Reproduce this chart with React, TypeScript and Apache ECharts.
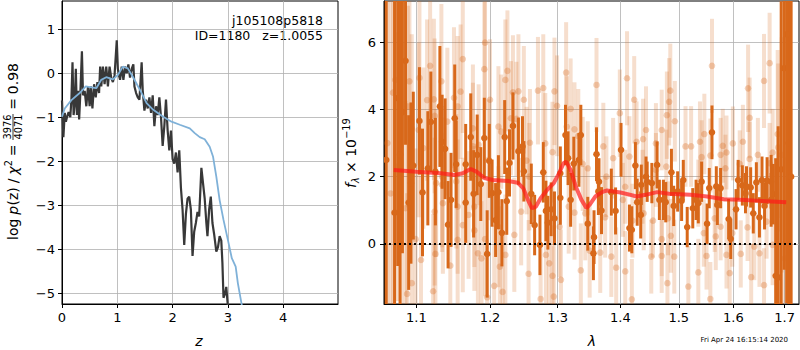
import React, { useEffect, useRef } from 'react';
import * as echarts from 'echarts';

// ---------- left panel: p(z) ----------
const zTicks = [0, 1, 2, 3, 4];
const logpTicks = [-5, -4, -3, -2, -1, 0, 1];
const Z_MIN = 0, Z_MAX = 4.99, LP_MIN = -5.24, LP_MAX = 1.64;

const pzZ = [0.0, 0.01, 0.025, 0.05, 0.07, 0.09, 0.12, 0.15, 0.17, 0.19, 0.21, 0.23, 0.25, 0.27, 0.29, 0.31, 0.33, 0.36, 0.38, 0.41, 0.44, 0.47, 0.5, 0.52, 0.55, 0.58, 0.61, 0.64, 0.67, 0.69, 0.71, 0.74, 0.77, 0.8, 0.83, 0.86, 0.89, 0.92, 0.95, 0.99, 1.01, 1.03, 1.05, 1.08, 1.11, 1.14, 1.17, 1.2, 1.23, 1.26, 1.29, 1.31, 1.34, 1.37, 1.4, 1.44, 1.46, 1.49, 1.52, 1.55, 1.58, 1.61, 1.64, 1.67, 1.7, 1.73, 1.76, 1.79, 1.82, 1.85, 1.88, 1.91, 1.94, 1.97, 2.0, 2.03, 2.06, 2.09, 2.12, 2.15, 2.18, 2.21, 2.24, 2.27, 2.3, 2.33, 2.36, 2.39, 2.42, 2.45, 2.48, 2.52, 2.55, 2.58, 2.61, 2.63, 2.66, 2.69, 2.72, 2.75, 2.79, 2.82, 2.85, 2.88, 2.9, 2.92, 2.95, 2.97, 3.0, 3.03];
const pzLog = [-0.62, -0.61, -1.45, -0.9, -1.1, -1.0, -0.88, -1.0, -0.6, 0.25, -0.95, -0.7, 0.1, -0.95, -0.4, -1.05, -0.5, 0.5, -0.5, -0.4, -0.75, -0.3, -0.75, -0.3, -0.8, -0.25, -0.55, -0.2, -0.45, 0.15, -0.3, 0.15, -0.25, 0.15, -0.3, 0.15, -0.1, -0.2, -0.05, 0.75, 0.1, -0.05, -0.15, 0.15, -0.15, 0.15, 0.0, 0.2, -0.1, 0.1, 0.2, -0.3, -0.45, -0.55, -0.6, 0.25, -0.4, -0.85, -0.6, -0.8, -0.55, -0.9, -0.5, -1.2, -0.75, -0.95, -0.55, -1.0, -1.65, -1.2, -0.6, -1.3, -1.75, -1.3, -1.95, -2.05, -1.8, -2.25, -1.75, -2.6, -3.1, -3.9, -3.2, -2.85, -2.8, -3.1, -4.15, -3.6, -3.4, -3.15, -3.25, -2.15, -2.5, -2.85, -3.4, -3.7, -3.1, -2.8, -3.4, -3.65, -4.05, -3.95, -3.7, -3.8, -4.3, -5.1, -5.0, -4.85, -5.3, -5.6];

const tplZ = [0.0, 0.05, 0.17, 0.32, 0.43, 0.53, 0.62, 0.71, 0.8, 0.92, 1.01, 1.1, 1.19, 1.28, 1.41, 1.53, 1.65, 1.83, 1.98, 2.13, 2.31, 2.4, 2.49, 2.58, 2.67, 2.73, 2.79, 2.85, 2.92, 3.0, 3.07, 3.14, 3.18, 3.24, 3.3];
const tplLog = [-0.99, -0.8, -0.61, -0.45, -0.3, -0.32, -0.34, -0.15, -0.09, -0.14, -0.04, 0.15, 0.11, -0.08, -0.38, -0.68, -0.83, -0.99, -1.1, -1.17, -1.25, -1.36, -1.45, -1.5, -1.67, -1.89, -2.35, -2.88, -3.33, -3.79, -4.2, -4.39, -4.77, -5.19, -5.6];

// ---------- right panel: spectrum ----------
const lamTicks = [1.1, 1.2, 1.3, 1.4, 1.5, 1.6, 1.7];
const fluxTicks = [0, 2, 4, 6];
const LAM_MIN = 1.0587, LAM_MAX = 1.729, FX_MIN = -1.79, FX_MAX = 7.23;

// [lambda, flux, error]
const lightPts = [
  [1.063, 3.0, 8], [1.067, 1.5, 8], [1.07, 4.5, 7], [1.081, 0.0, 6],
  [1.162, 5.5, 2.2], [1.118, 5.3, 2.5], [1.091, 4.84, 2.8], [1.104, 4.94, 2.6], [1.133, 4.84, 2.3], [1.192, 5.2, 2.0], [1.193, 5.99, 2.0], [1.159, 4.53, 2.0], [1.15, 4.35, 2.1], [1.123, 4.3, 2.4], [1.114, 4.28, 2.4], [1.089, 4.09, 3.0], [1.155, 4.09, 2.1], [1.124, 3.81, 2.3], [1.141, 3.64, 2.2], [1.176, 3.44, 1.9], [1.103, 3.39, 2.6], [1.094, 3.44, 2.8], [1.109, 2.85, 2.4], [1.184, 2.95, 1.8], [1.176, 2.9, 1.9], [1.134, 2.0, 2.1], [1.126, 1.81, 2.2], [1.134, 1.76, 2.0], [1.153, 1.86, 2.0], [1.155, 1.11, 2.0], [1.135, 1.21, 2.1], [1.124, 0.96, 2.2], [1.178, 1.11, 1.8], [1.17, 0.86, 1.9], [1.178, 0.4, 1.8], [1.162, 0.56, 2.0], [1.155, 0.12, 2.0], [1.193, 0.14, 1.7], [1.183, -0.28, 1.8], [1.188, -0.43, 1.7], [1.125, -0.3, 2.2], [1.145, -0.65, 2.0], [1.106, -0.48, 2.5], [1.094, -1.17, 2.8], [1.088, -1.49, 3.0], [1.122, -1.41, 2.3], [1.196, -1.59, 1.7], [1.099, 0.14, 2.7], [1.086, 1.06, 3.2], [1.073, 4.88, 4.0], [1.076, 2.3, 4.0],
  [1.225, 5.15, 1.8], [1.222, 4.88, 1.8], [1.233, 4.51, 1.7], [1.241, 4.54, 1.7], [1.249, 4.29, 1.6], [1.27, 4.56, 1.6], [1.278, 4.64, 1.6], [1.295, 4.54, 1.6], [1.313, 5.1, 1.5], [1.2, 4.29, 1.8], [1.212, 3.49, 1.8], [1.216, 3.34, 1.7], [1.23, 3.74, 1.7], [1.238, 3.72, 1.7], [1.258, 3.01, 1.6], [1.253, 2.48, 1.6], [1.281, 2.99, 1.5], [1.292, 2.73, 1.5], [1.299, 4.11, 1.5], [1.314, 3.49, 1.5], [1.32, 4.02, 1.5], [1.326, 3.41, 1.4], [1.332, 3.21, 1.4], [1.339, 2.38, 1.4], [1.347, 2.25, 1.4], [1.198, 2.5, 1.8], [1.257, 2.0, 1.6], [1.245, 0.96, 1.6], [1.235, 0.27, 1.7], [1.212, 0.51, 1.8], [1.222, -0.33, 1.8], [1.214, -0.68, 1.8], [1.206, -1.25, 1.8], [1.218, -1.43, 1.8], [1.256, -0.89, 1.6], [1.282, -0.33, 1.5], [1.287, -0.58, 1.5], [1.292, -0.95, 1.5], [1.274, -1.64, 1.6], [1.294, -1.57, 1.5], [1.305, -1.07, 1.5], [1.303, 0.51, 1.5], [1.317, 1.11, 1.4], [1.326, 0.93, 1.4], [1.343, 0.91, 1.4], [1.35, -0.2, 1.4], [1.336, -0.79, 1.4],
  [1.361, 4.73, 1.4], [1.411, 4.93, 1.4], [1.423, 4.29, 1.3], [1.485, 4.56, 1.4], [1.483, 4.23, 1.3], [1.479, 3.83, 1.3], [1.493, 3.65, 1.2], [1.399, 3.89, 1.3], [1.443, 3.39, 1.3], [1.47, 3.39, 1.2], [1.427, 3.04, 1.2], [1.438, 3.12, 1.2], [1.46, 2.99, 1.2], [1.372, 2.9, 1.3], [1.388, 2.55, 1.2], [1.415, 2.6, 1.2], [1.522, 2.9, 1.2], [1.512, 2.9, 1.2], [1.46, 2.2, 1.1], [1.478, 2.3, 1.1], [1.377, 2.0, 1.2], [1.408, 1.7, 1.1], [1.437, 1.7, 1.1], [1.375, 0.79, 1.2], [1.404, 1.31, 1.1], [1.439, 0.91, 1.1], [1.455, 0.69, 1.1], [1.481, 0.76, 1.1], [1.47, 0.14, 1.1], [1.486, 0.24, 1.1], [1.42, 0.69, 1.1], [1.367, -0.26, 1.2], [1.385, -0.38, 1.2], [1.408, -0.82, 1.2], [1.393, -0.71, 1.2], [1.452, -0.38, 1.1], [1.47, -0.36, 1.1], [1.492, -0.38, 1.1], [1.48, -1.17, 1.2], [1.517, -1.27, 1.2], [1.419, -1.65, 1.2],
  [1.56, 5.3, 1.4], [1.67, 5.38, 1.5], [1.659, 4.85, 1.4], [1.628, 4.63, 1.3], [1.631, 3.75, 1.2], [1.538, 3.04, 1.2], [1.546, 3.27, 1.2], [1.58, 2.92, 1.1], [1.599, 2.99, 1.1], [1.618, 3.04, 1.1], [1.541, 2.58, 1.1], [1.557, 2.63, 1.1], [1.576, 2.65, 1.1], [1.587, 2.72, 1.1], [1.612, 2.38, 1.0], [1.631, 2.53, 1.1], [1.647, 2.65, 1.1], [1.676, 2.72, 1.3], [1.687, 2.87, 2.5], [1.686, 3.27, 2.5], [1.694, 2.65, 3.5], [1.585, 2.25, 1.0], [1.67, 2.4, 1.2], [1.535, 1.51, 1.0], [1.565, 0.76, 1.0], [1.576, 0.51, 1.0], [1.627, 0.49, 1.0], [1.664, 0.66, 1.1], [1.545, 0.32, 1.0], [1.567, 0.22, 1.0], [1.598, 0.32, 1.0], [1.64, -0.08, 1.0], [1.676, -0.03, 1.2], [1.55, -0.36, 1.0], [1.587, -0.33, 1.0], [1.614, -0.3, 1.0], [1.65, -0.28, 1.0], [1.7, -0.43, 3.0], [1.593, -0.87, 1.0], [1.535, -0.85, 1.0], [1.634, -0.99, 1.0], [1.659, -1.23, 1.1], [1.557, -1.64, 1.1],
];

const darkPts = [
  [1.0615, 2.5, 12], [1.708, 3.0, 12], [1.713, 2.0, 12],
  [1.086, 5.45, 2.5], [1.076, 4.34, 5.0], [1.082, 3.92, 4.2], [1.072, 0.93, 6.5], [1.079, 2.65, 5.5], [1.104, 3.66, 1.6], [1.119, 3.63, 1.5], [1.131, 4.09, 1.8], [1.151, 3.74, 1.6], [1.115, 2.25, 1.7], [1.108, 1.53, 1.9], [1.093, 1.81, 2.4], [1.09, 1.23, 2.6], [1.096, 2.33, 2.2], [1.138, 2.83, 1.5], [1.134, 3.04, 1.4], [1.125, 2.15, 1.6], [1.142, 0.57, 1.3], [1.146, 1.31, 1.4], [1.153, 2.37, 1.3], [1.166, 2.37, 1.2], [1.173, 3.18, 1.3], [1.192, 3.15, 1.2], [1.182, 2.65, 1.2], [1.177, 1.49, 1.3], [1.166, 1.23, 1.2], [1.187, 1.78, 1.1], [1.196, -0.3, 1.3], [1.199, 2.47, 1.1],
  [1.233, 3.51, 1.0], [1.221, 3.18, 1.1], [1.228, 2.41, 1.0], [1.249, 2.16, 0.9], [1.241, 2.76, 1.0], [1.212, 1.54, 1.1], [1.224, 1.27, 1.0], [1.208, 0.71, 1.1], [1.217, 0.33, 1.0], [1.26, 1.49, 0.9], [1.265, 0.56, 0.9], [1.273, -0.03, 0.9], [1.278, 2.13, 0.9], [1.282, 0.98, 0.9], [1.285, 0.63, 0.8], [1.29, 1.03, 0.8], [1.295, 0.76, 0.8], [1.304, 1.37, 0.8], [1.312, 3.24, 0.9], [1.316, 2.55, 0.8], [1.32, 1.31, 0.8], [1.325, 2.39, 0.8], [1.333, 2.5, 0.8], [1.336, 3.24, 0.9], [1.347, 0.6, 0.8], [1.356, -0.28, 0.8],
  [1.304, 2.1, 0.8], [1.247, 2.9, 0.9], [1.203, 1.51, 1.0],
  [1.361, 2.67, 0.8], [1.364, 1.56, 0.7], [1.369, 0.99, 0.7], [1.357, 0.2, 0.8], [1.365, 1.85, 0.7], [1.385, 1.54, 0.7], [1.392, 0.98, 0.7], [1.401, 2.8, 0.8], [1.415, 0.47, 0.7], [1.419, 0.42, 0.7], [1.425, 2.33, 0.7], [1.428, 1.24, 0.7], [1.434, 0.86, 0.7], [1.445, 1.85, 0.6], [1.453, 1.81, 0.6], [1.462, 2.35, 0.7], [1.473, 1.31, 0.6], [1.477, 1.24, 0.6], [1.487, 2.13, 0.7], [1.491, 1.13, 0.6], [1.505, 1.28, 0.6], [1.515, 0.5, 0.6], [1.525, 1.06, 0.6],
  [1.435, 1.76, 0.6], [1.443, 2.0, 0.6], [1.466, 1.31, 0.6], [1.498, 1.56, 0.6], [1.508, 1.9, 0.6], [1.531, 1.31, 0.6],
  [1.56, 3.32, 0.8], [1.555, 1.66, 0.6], [1.57, 1.16, 0.6], [1.576, 1.66, 0.6], [1.551, 0.6, 0.6], [1.591, 0.74, 0.6], [1.595, 0.15, 0.6], [1.605, 1.03, 0.6], [1.617, 1.74, 0.6], [1.623, 1.51, 0.6], [1.633, 1.68, 0.6], [1.638, 0.91, 0.6], [1.644, 1.83, 0.6], [1.65, 0.79, 0.6], [1.66, 1.13, 0.7], [1.665, 1.88, 0.7], [1.673, 1.85, 0.8], [1.677, 1.48, 0.9], [1.693, 2.22, 5.0], [1.699, 5.23, 6.0], [1.704, 6.24, 8.0], [1.682, -0.95, 3.5], [1.687, -1.0, 4.5], [1.535, 1.21, 0.6],
  [1.541, 1.85, 0.6], [1.568, 1.71, 0.6], [1.609, 1.9, 0.6], [1.625, 1.71, 0.6], [1.655, 1.9, 0.7], [1.673, 1.31, 0.8],
];

const modelLam = [1.071, 1.1, 1.132, 1.151, 1.162, 1.173, 1.181, 1.192, 1.204, 1.226, 1.24, 1.248, 1.255, 1.261, 1.267, 1.274, 1.284, 1.294, 1.302, 1.309, 1.313, 1.32, 1.328, 1.337, 1.345, 1.351, 1.359, 1.37, 1.378, 1.4, 1.417, 1.427, 1.442, 1.462, 1.483, 1.521, 1.551, 1.582, 1.613, 1.651, 1.703];
const modelFlux = [2.2, 2.15, 2.1, 2.05, 2.1, 2.23, 2.15, 1.96, 1.9, 1.87, 1.82, 1.66, 1.31, 1.06, 1.11, 1.36, 1.61, 1.81, 2.1, 2.4, 2.45, 2.2, 1.71, 1.31, 1.06, 1.19, 1.41, 1.54, 1.59, 1.53, 1.46, 1.41, 1.46, 1.54, 1.49, 1.46, 1.41, 1.33, 1.31, 1.28, 1.24];

const FONT = 'DejaVu Sans';
const ORANGE = '#d8681a';

const minus = (v: number) => (v < 0 ? '\u2212' + Math.abs(v) : String(v));

const errRender = (barW: number, barA: number, dotA: number, r: number) => (params: any, api: any) => {
  const x = api.value(0), y = api.value(1), e = api.value(2);
  const p = api.coord([x, y]);
  const t = api.coord([x, y + e]);
  const b = api.coord([x, y - e]);
  return {
    type: 'group',
    children: [
      { type: 'line', shape: { x1: p[0], y1: t[1], x2: p[0], y2: b[1] }, style: { stroke: ORANGE, lineWidth: barW, opacity: barA } },
      { type: 'circle', shape: { cx: p[0], cy: p[1], r }, style: { fill: ORANGE, opacity: dotA } },
    ],
  };
};

const txt = (text: string, x: number, y: number, size: number, opts: any = {}) => ({
  type: 'text', x, y, rotation: opts.rot ?? 0, silent: true,
  style: {
    text, fill: '#000', font: `${opts.italic ? 'italic ' : ''}${size}px "${FONT}"`,
    fontFamily: FONT, fontSize: size, fontStyle: opts.italic ? 'italic' : 'normal',
    align: opts.align ?? 'center', verticalAlign: opts.va ?? 'middle',
    textAlign: opts.align ?? 'center', textVerticalAlign: opts.va ?? 'middle',
  },
});

const R = Math.PI / 2;

export default function App() {
  const ref = useRef<HTMLDivElement>(null);
  useEffect(() => {
    if (!ref.current) return;
    const chart = echarts.init(ref.current, null, { renderer: 'svg' });
    const axisCommon = {
      axisLine: { show: true, onZero: false, lineStyle: { color: '#000', width: 1 } },
      axisTick: { show: true, length: 4, lineStyle: { color: '#000', width: 1 } },
      splitLine: { show: true, lineStyle: { color: '#b0b0b0', width: 0.8 } },
    };
    const labelStyle = { color: '#000', fontFamily: FONT, fontSize: 13 };
    const option: any = {
      animation: false,
      grid: [
        { left: 62, top: 1, width: 276, bottom: 46, show: true, borderColor: '#000', borderWidth: 1, containLabel: false, outerBoundsMode: 'none' },
        { left: 384, top: 1, right: 1, bottom: 46, show: true, borderColor: '#000', borderWidth: 1, containLabel: false, outerBoundsMode: 'none' },
      ],
      xAxis: [
        {
          type: 'value', gridIndex: 0, min: Z_MIN, max: Z_MAX, ...axisCommon,
          axisTick: { ...axisCommon.axisTick, customValues: zTicks },
          axisLabel: { ...labelStyle, margin: 7, customValues: zTicks, formatter: (v: number) => minus(v) },
        },
        {
          type: 'value', gridIndex: 1, min: Math.log(LAM_MIN), max: Math.log(LAM_MAX), ...axisCommon,
          axisTick: { ...axisCommon.axisTick, customValues: lamTicks.map((l) => Math.log(l)) },
          axisLabel: { ...labelStyle, margin: 7, customValues: lamTicks.map((l) => Math.log(l)), formatter: (v: number) => Math.exp(v).toFixed(1) },
        },
      ],
      yAxis: [
        {
          type: 'value', gridIndex: 0, min: LP_MIN, max: LP_MAX, ...axisCommon,
          axisTick: { ...axisCommon.axisTick, customValues: logpTicks },
          axisLabel: { ...labelStyle, margin: 7, customValues: logpTicks, formatter: (v: number) => minus(v) },
        },
        {
          type: 'value', gridIndex: 1, min: FX_MIN, max: FX_MAX, ...axisCommon,
          axisTick: { ...axisCommon.axisTick, customValues: fluxTicks },
          axisLabel: { ...labelStyle, margin: 8, customValues: fluxTicks, formatter: (v: number) => minus(v) },
        },
      ],
      series: [
        {
          type: 'line', xAxisIndex: 0, yAxisIndex: 0, showSymbol: false, symbol: 'none', clip: true,
          data: pzZ.map((z, i) => [z, pzLog[i]]),
          lineStyle: { color: '#383838', width: 2.2 },
        },
        {
          type: 'line', xAxisIndex: 0, yAxisIndex: 0, showSymbol: false, symbol: 'none', clip: true,
          data: tplZ.map((z, i) => [z, tplLog[i]]),
          lineStyle: { color: '#7fb1d8', width: 1.8 },
        },
        {
          type: 'custom', xAxisIndex: 1, yAxisIndex: 1, clip: true,
          renderItem: errRender(4, 0.22, 0.3, 3.3),
          encode: { x: 0, y: 1 },
          data: lightPts.map(([l, f, e]) => [Math.log(l), f, e]),
        },
        {
          type: 'custom', xAxisIndex: 1, yAxisIndex: 1, clip: true,
          renderItem: errRender(3, 1, 1, 3.3),
          encode: { x: 0, y: 1 },
          data: darkPts.map(([l, f, e]) => [Math.log(l), f, e]),
        },
        {
          type: 'line', xAxisIndex: 1, yAxisIndex: 1, showSymbol: false, symbol: 'none', clip: true,
          data: modelLam.map((l, i) => [Math.log(l), modelFlux[i]]),
          lineStyle: { color: '#ff1a1a', width: 4, opacity: 0.7 },
          markLine: {
            silent: true, symbol: 'none', label: { show: false },
            lineStyle: { color: '#000', width: 2, type: [2, 3] },
            data: [{ yAxis: 0 }],
          },
        },
      ],
      graphic: [
        txt('j105108p5818', 323, 20, 12.5, { align: 'right' }),
        txt('ID=1180   z=1.0055', 323, 35, 12.5, { align: 'right' }),
        // left y label pieces (reading bottom to top)
        txt('log', 13, 229.3, 14, { rot: R }),
        txt('p', 13, 210.2, 14, { rot: R, italic: true }),
        txt('(z)', 13, 196.4, 14, { rot: R }),
        txt('/', 13, 181, 14, { rot: R }),
        txt('\u03c7', 13, 170.5, 14, { rot: R, italic: true }),
        txt('2', 8, 163.2, 9.8, { rot: R }),
        txt('=', 13, 150.4, 14, { rot: R }),
        txt('3976', 7.5, 127, 9.8, { rot: R }),
        txt('4071', 18.5, 127, 9.8, { rot: R }),
        { type: 'line', silent: true, shape: { x1: 13, y1: 114, x2: 13, y2: 140 }, style: { stroke: '#000', lineWidth: 0.8 } },
        txt('=', 13, 104, 14, { rot: R }),
        txt('0.98', 13, 78.6, 14, { rot: R }),
        // right y label pieces
        txt('f', 351, 185.5, 14, { rot: R, italic: true }),
        txt('\u03bb', 355, 180, 9.8, { rot: R, italic: true }),
        txt('\u00d7 10', 351, 156, 14, { rot: R }),
        txt('\u221219', 346, 128.5, 9.8, { rot: R }),
        // axis names
        txt('z', 199, 341, 14, { italic: true }),
        txt('\u03bb', 592, 341, 14, { italic: true }),
        txt('Fri Apr 24 16:15:14 2020', 788, 340, 7, { align: 'right' }),
      ],
    };
    chart.setOption(option);
    return () => chart.dispose();
  }, []);
  return <div ref={ref} style={{ position: 'fixed', left: 0, top: 0, width: 800, height: 350, background: '#fff' }} />;
}
